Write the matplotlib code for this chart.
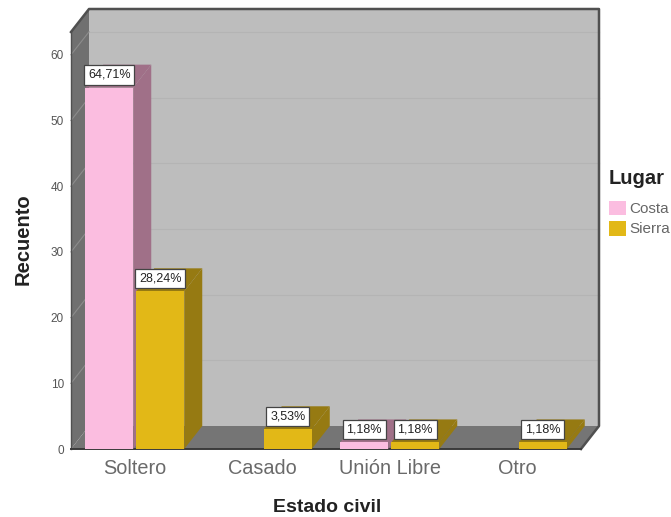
import matplotlib
matplotlib.use("Agg")
import matplotlib.pyplot as plt
from matplotlib.patches import Polygon, Patch

plt.rcParams['font.family'] = ['Liberation Sans', 'DejaVu Sans']

categories = ["Soltero", "Casado", "Unión Libre", "Otro"]
yticks = [0, 10, 20, 30, 40, 50, 60]
costa = [55, 0, 1, 0]
sierra = [24, 3, 1, 1]
costa_labels = ["64,71%", "", "1,18%", ""]
sierra_labels = ["28,24%", "3,53%", "1,18%", "1,18%"]

W, H = 671, 517
fig = plt.figure(figsize=(W / 100, H / 100), dpi=100, facecolor="white")
ax = fig.add_axes([71 / W, (H - 449) / H, 510 / W, 417 / H])
ymax = 417 / 6.57
ax.set_xlim(-0.5, 3.5)
ax.set_ylim(0, ymax)
ax.patch.set_visible(False)
for s in ax.spines.values():
    s.set_visible(False)

DX, DY = 18 / 127.5, 23 / 6.57
x0, x1 = -0.5, 3.5


def poly(pts, fc, z, ec="none", lw=0):
    ax.add_patch(Polygon(pts, closed=True, fc=fc, ec=ec, lw=lw, zorder=z, clip_on=False))


# back wall, left wall and floor
poly([(x0 + DX, DY), (x1 + DX, DY), (x1 + DX, ymax + DY), (x0 + DX, ymax + DY)], "#BDBDBD", 1)
poly([(x0, 0), (x0 + DX, DY), (x0 + DX, ymax + DY), (x0, ymax)], "#707070", 2)
poly([(x0, 0), (x1, 0), (x1 + DX, DY), (x0 + DX, DY)], "#757575", 2)
for t in yticks[1:]:
    ax.plot([x0 + DX, x1 + DX], [t + DY, t + DY], color="#B4B4B4", lw=0.8, zorder=1.5, clip_on=False)
    ax.plot([x0, x0 + DX], [t, t + DY], color="#8C8C8C", lw=0.8, zorder=2.5, clip_on=False)
# frame
ax.plot([x0, x0 + DX, x1 + DX, x1 + DX, x1], [ymax, ymax + DY, ymax + DY, DY, 0],
        color="#505050", lw=1.8, zorder=2.6, clip_on=False)
ax.plot([x0, x0], [0, ymax], color="#505050", lw=1, zorder=2.6, clip_on=False)
ax.plot([x0, x1], [0, 0], color="#3A3A3A", lw=1.4, zorder=2.6, clip_on=False)

BW = 48 / 127.5
OFF = 0.2
series = [
    (costa, costa_labels, -OFF, "#FBBDE0", "#A07088", "Costa"),
    (sierra, sierra_labels, OFF, "#E2B817", "#967A12", "Sierra"),
]
z = 3.0
for i in range(len(categories)):
    for vals, labs, off, col, dark, name in series:
        v = vals[i]
        if v <= 0:
            continue
        xl, xr = i + off - BW / 2, i + off + BW / 2
        poly([(xr, 0), (xr + DX, DY), (xr + DX, v + DY), (xr, v)], dark, z)
        poly([(xl, v), (xr, v), (xr + DX, v + DY), (xl + DX, v + DY)], dark, z)
        ax.bar(i + off, v, BW, color=col, zorder=z + 0.1, clip_on=False)
        z += 0.2

for vals, labs, off, col, dark, name in series:
    for i, (v, lab) in enumerate(zip(vals, labs)):
        if lab:
            ax.annotate(lab, xy=(i + off, v), xytext=(0, 9.2), textcoords="offset points",
                        ha="center", va="center", fontsize=9, color="#222222", zorder=20,
                        bbox=dict(boxstyle="square,pad=0.3", fc="white", ec="#444444", lw=0.9))

ax.set_xticks(range(len(categories)), categories)
ax.set_yticks(yticks)
ax.tick_params(axis="x", length=0, pad=7.5, labelsize=14.3, labelcolor="#6A6A6A")
ax.tick_params(axis="y", length=0, pad=5, labelsize=8.5, labelcolor="#555555")

fig.text(327 / W, 1 - 508 / H, "Estado civil", ha="center", va="center",
         fontsize=14, fontweight="bold", color="#222222")
fig.text(23 / W, 1 - 239 / H, "Recuento", ha="center", va="center", rotation=90,
         fontsize=14.5, fontweight="bold", color="#222222")

handles = [Patch(fc=s[3], label=s[5]) for s in series]
leg = fig.legend(handles=handles, title="Lugar", loc="upper left",
                 bbox_to_anchor=(609 / W, 1 - 169 / H), frameon=False, fontsize=11,
                 title_fontproperties={"size": 14.5, "weight": "bold"},
                 handlelength=1.1, handleheight=1.1, handletextpad=0.2,
                 labelspacing=0.32, borderpad=0, borderaxespad=0, alignment="left")
leg._legend_box.sep = 9
for t in leg.get_texts():
    t.set_color("#666666")
leg.get_title().set_color("#222222")

fig.savefig("out.png", dpi=100)
